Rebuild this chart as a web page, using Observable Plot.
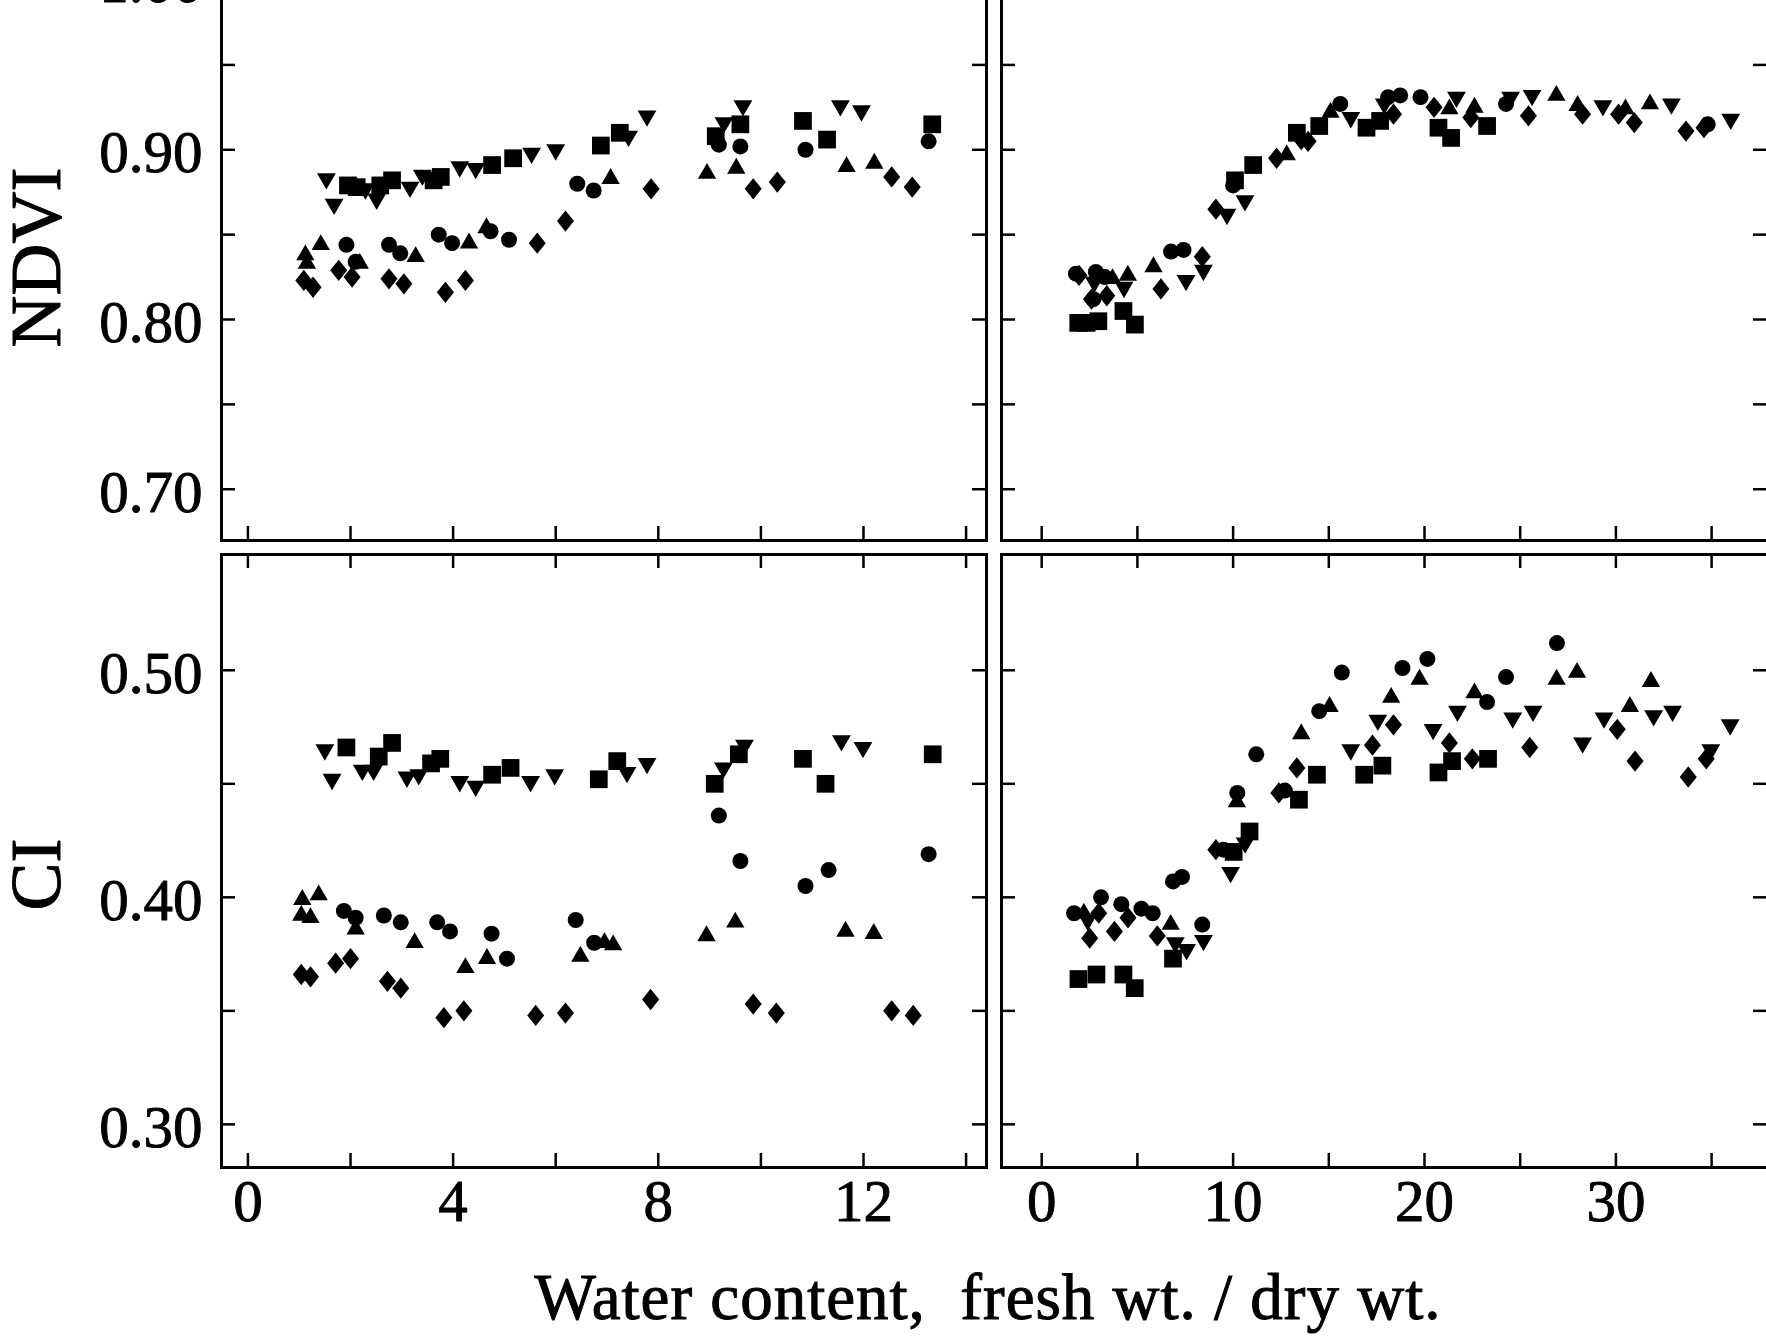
<!DOCTYPE html>
<html><head><meta charset="utf-8">
<script src="https://cdn.jsdelivr.net/npm/d3@7"></script>
<script src="https://cdn.jsdelivr.net/npm/@observablehq/plot@0.6"></script>
<style>
html,body{margin:0;padding:0;background:#fff;}
#chart{position:relative;width:1766px;height:1340px;overflow:hidden;background:#fff;font-family:"Liberation Serif","Times New Roman",serif;}
#chart svg{position:absolute;}
.lab{position:absolute;white-space:pre;line-height:0.9;color:#000;font-family:"Liberation Serif","Times New Roman",serif;-webkit-text-stroke:1px #000;}
</style></head><body><div id="chart"></div><script>
// ---------- data: [water content, index] ----------
// NDVI, left panel
const tlSquare = [[1.95,0.879],[2.12,0.878],[2.58,0.879],[2.81,0.882],[3.62,0.882],[3.76,0.884],[4.76,0.891],[5.17,0.895],[6.88,0.9025],[7.25,0.910],[9.12,0.908],[9.60,0.915],[10.82,0.917],[11.29,0.906],[13.34,0.915]];
const tlCircle = [[1.92,0.844],[2.10,0.834],[2.75,0.844],[2.97,0.839],[3.72,0.850],[3.98,0.845],[4.73,0.852],[5.09,0.847],[6.42,0.880],[6.74,0.876],[9.18,0.903],[9.60,0.902],[10.87,0.900],[13.27,0.905]];
const tlUp = [[1.12,0.838],[1.15,0.833],[1.42,0.844],[2.18,0.833],[3.27,0.837],[4.31,0.845],[4.65,0.854],[7.07,0.883],[8.95,0.886],[9.52,0.889],[11.67,0.890],[12.21,0.892]];
const tlDown = [[1.53,0.883],[1.68,0.868],[2.29,0.877],[2.51,0.871],[3.16,0.878],[3.40,0.885],[4.13,0.890],[4.44,0.889],[5.53,0.898],[6.00,0.900],[7.42,0.908],[7.78,0.920],[9.28,0.916],[9.65,0.926],[11.55,0.926],[11.96,0.923]];
const tlDiamond = [[1.09,0.823],[1.27,0.819],[1.77,0.829],[2.03,0.825],[2.75,0.824],[3.04,0.821],[3.85,0.816],[4.24,0.823],[5.64,0.845],[6.19,0.858],[7.86,0.877],[9.85,0.877],[10.32,0.881],[12.55,0.884],[12.95,0.878]];
// NDVI, right panel
const trSquare = [[1.91,0.798],[2.35,0.798],[2.96,0.799],[4.27,0.805],[4.87,0.797],[10.10,0.882],[11.05,0.891],[13.33,0.910],[14.50,0.914],[16.97,0.913],[17.68,0.917],[20.73,0.913],[21.39,0.907],[23.27,0.914]];
const trCircle = [[1.79,0.827],[2.83,0.828],[2.70,0.812],[3.30,0.825],[6.76,0.840],[7.41,0.841],[10.00,0.879],[15.60,0.927],[18.10,0.931],[18.73,0.932],[19.79,0.931],[24.26,0.927],[34.80,0.915]];
const trUp = [[3.70,0.824],[4.50,0.826],[5.84,0.831],[12.80,0.897],[15.09,0.922],[21.30,0.924],[22.61,0.925],[26.89,0.932],[28.00,0.926],[30.50,0.924],[31.78,0.927]];
const trDown = [[2.75,0.822],[4.30,0.819],[7.54,0.823],[8.45,0.829],[9.68,0.862],[10.62,0.870],[16.15,0.919],[17.90,0.927],[21.67,0.931],[24.50,0.931],[25.62,0.932],[29.32,0.926],[32.90,0.927],[36.00,0.918]];
const trDiamond = [[1.95,0.826],[2.60,0.812],[3.40,0.814],[6.23,0.818],[8.39,0.837],[9.10,0.865],[12.27,0.895],[13.56,0.906],[13.92,0.905],[18.38,0.921],[20.50,0.925],[22.42,0.919],[25.43,0.920],[28.26,0.921],[30.14,0.921],[30.96,0.916],[33.66,0.911],[34.60,0.913]];
// CI, left panel
const blSquare = [[1.92,0.466],[2.55,0.462],[2.81,0.468],[3.57,0.459],[3.75,0.461],[4.76,0.454],[5.12,0.457],[6.84,0.452],[7.20,0.460],[9.10,0.450],[9.57,0.463],[10.82,0.461],[11.26,0.450],[13.35,0.463]];
const blCircle = [[1.87,0.394],[2.10,0.391],[2.65,0.392],[2.98,0.389],[3.69,0.389],[3.94,0.385],[4.75,0.384],[5.05,0.373],[6.39,0.390],[6.75,0.380],[9.18,0.436],[9.60,0.416],[10.87,0.405],[11.32,0.412],[13.27,0.419]];
const blUp = [[1.06,0.399],[1.38,0.401],[1.04,0.392],[1.22,0.391],[2.10,0.386],[3.25,0.380],[4.24,0.369],[4.66,0.373],[6.48,0.374],[6.95,0.380],[7.12,0.379],[8.94,0.383],[9.50,0.389],[11.65,0.385],[12.20,0.384]];
const blDown = [[1.50,0.465],[1.64,0.452],[2.23,0.456],[2.45,0.456],[3.10,0.453],[3.33,0.454],[4.13,0.451],[4.44,0.449],[5.51,0.451],[5.98,0.454],[7.39,0.455],[7.78,0.459],[9.27,0.457],[9.68,0.467],[11.57,0.469],[11.99,0.466]];
const blDiamond = [[1.04,0.366],[1.22,0.365],[1.71,0.371],[2.00,0.373],[2.72,0.363],[2.98,0.360],[3.82,0.347],[4.21,0.350],[5.61,0.348],[6.19,0.349],[7.85,0.355],[9.85,0.353],[10.30,0.349],[12.55,0.350],[12.97,0.348]];
// CI, right panel
const brSquare = [[1.92,0.364],[2.86,0.366],[4.27,0.366],[4.86,0.360],[6.86,0.373],[10.03,0.420],[10.86,0.429],[13.44,0.443],[14.38,0.454],[16.85,0.454],[17.80,0.458],[20.73,0.455],[21.44,0.460],[23.32,0.461]];
const brCircle = [[1.69,0.393],[3.10,0.400],[4.16,0.397],[5.21,0.395],[5.80,0.393],[6.86,0.407],[7.33,0.409],[8.39,0.388],[9.50,0.421],[10.22,0.446],[11.21,0.463],[12.70,0.447],[14.50,0.482],[15.68,0.499],[18.85,0.501],[20.15,0.505],[23.27,0.486],[24.26,0.497],[26.92,0.512]];
const brUp = [[2.20,0.393],[6.74,0.388],[10.20,0.442],[13.56,0.472],[15.04,0.484],[18.26,0.488],[19.74,0.496],[22.61,0.490],[26.90,0.496],[27.97,0.499],[30.73,0.484],[31.83,0.495]];
const brDown = [[2.40,0.390],[6.98,0.380],[7.57,0.377],[8.45,0.381],[9.87,0.411],[10.63,0.424],[16.15,0.465],[17.56,0.478],[20.45,0.474],[21.72,0.482],[24.61,0.479],[25.67,0.482],[28.26,0.468],[29.38,0.479],[31.97,0.480],[32.96,0.482],[34.96,0.465],[35.97,0.476]];
const brDiamond = [[2.51,0.382],[2.98,0.393],[3.80,0.385],[4.51,0.391],[6.04,0.383],[9.10,0.421],[12.39,0.446],[13.33,0.457],[17.28,0.467],[18.38,0.476],[21.30,0.468],[22.50,0.461],[25.50,0.466],[30.07,0.474],[31.00,0.460],[33.78,0.453],[34.72,0.461]];

// ---------- axes ----------
const leftXTicks = [0,2,4,6,8,10,12,14];
const leftXLabels = [0,4,8,12];
const rightXTicks = [0,5,10,15,20,25,30,35];
const rightXLabels = [0,10,20,30];
const ndviTicks = [0.70,0.75,0.80,0.85,0.90,0.95,1.00];
const ndviLabels = [0.70,0.80,0.90,1.00];
const ciTicks = [0.30,0.35,0.40,0.45,0.50];
const ciLabels = [0.30,0.40,0.50];
const leftXDomain = [-0.515, 14.398];
const rightXDomain = [-2.10, 37.92];
const ndviDomain = [0.6698, 1.0233];
const ciDomain = [0.2810, 0.5510];
const xTitle = "Water content,  fresh wt. / dry wt.";
const yTitles = ["NDVI", "CI"];

// downward triangle symbol
const triangleDown = {
  draw(context, size) {
    const s3 = Math.sqrt(3);
    const y = -Math.sqrt(size / (s3 * 3));
    context.moveTo(0, -y * 2);
    context.lineTo(-s3 * y, y);
    context.lineTo(s3 * y, y);
    context.closePath();
  }
};
// slightly tall diamond symbol
const diamondTall = {
  draw(context, size) {
    const a = Math.sqrt(size / 2.5), b = 1.25 * a;
    context.moveTo(0, -b);
    context.lineTo(a, 0);
    context.lineTo(0, b);
    context.lineTo(-a, 0);
    context.closePath();
  }
};

const chart = document.getElementById("chart");
const FONT = "'Liberation Serif', 'Times New Roman', serif";

function panel(o) {
  const W = o.width - o.mL - o.mR, H = o.height - o.mT - o.mB;
  const tk = {stroke: "black", strokeWidth: 2.5};
  const dotOpts = (sym, r) => ({x: d => d[0], y: d => d[1], symbol: sym, r, fill: "black", stroke: "none"});
  const txt = {fontSize: 59, fill: "black", stroke: "black", strokeWidth: 0.9};
  const marks = [
    Plot.tickX(o.xTicks, {x: d => d, insetTop: H - 14, ...tk}),
    Plot.tickX(o.xTicks, {x: d => d, insetBottom: H - 14, ...tk}),
    Plot.tickY(o.yTicks, {y: d => d, insetRight: W - 14, ...tk}),
    Plot.tickY(o.yTicks, {y: d => d, insetLeft: W - 14, ...tk}),
    Plot.frame({stroke: "black", strokeWidth: 3}),
    Plot.dot(o.series[4], dotOpts(diamondTall, 7.6)),
    Plot.dot(o.series[3], dotOpts(triangleDown, 7)),
    Plot.dot(o.series[2], dotOpts("triangle", 6.8)),
    Plot.dot(o.series[1], dotOpts("circle", 8)),
    Plot.dot(o.series[0], dotOpts("square", 10))
  ];
  if (o.xLabels) marks.push(Plot.text(o.xLabels, {x: d => d, frameAnchor: "bottom", dy: 53, text: d => String(d), ...txt}));
  if (o.yLabels) marks.push(Plot.text(o.yLabels, {y: d => d, frameAnchor: "left", textAnchor: "end", dx: -19, dy: 3.4, text: d => d.toFixed(2), ...txt}));
  if (o.yTitle) marks.push(Plot.text([o.yTitle], {frameAnchor: "left", textAnchor: "middle", dx: o.titleDx, dy: o.titleDy, rotate: -90, text: d => d, fontSize: 72, fill: "black", stroke: "black", strokeWidth: 1}));
  const svg = Plot.plot({
    width: o.width, height: o.height,
    marginLeft: o.mL, marginRight: o.mR, marginTop: o.mT, marginBottom: o.mB,
    x: {domain: o.xDomain, axis: null},
    y: {domain: o.yDomain, axis: null},
    style: {background: "transparent", fontFamily: FONT, overflow: "visible"},
    marks
  });
  svg.style.left = o.left + "px";
  svg.style.top = o.top + "px";
  chart.append(svg);
}

// top-left NDVI (frame middle at page y 240; title at 257)
panel({series: [tlSquare, tlCircle, tlUp, tlDown, tlDiamond], xDomain: leftXDomain, yDomain: ndviDomain,
  xTicks: leftXTicks, yTicks: ndviTicks, yLabels: ndviLabels, yTitle: yTitles[0], titleDx: -185, titleDy: 17,
  left: 0, top: -70, width: 994, height: 612, mL: 221, mR: 8, mT: 10, mB: 2});
// top-right NDVI
panel({series: [trSquare, trCircle, trUp, trDown, trDiamond], xDomain: rightXDomain, yDomain: ndviDomain,
  xTicks: rightXTicks, yTicks: ndviTicks,
  left: 994, top: -70, width: 782, height: 612, mL: 7, mR: 9, mT: 10, mB: 2});
// bottom-left CI (frame middle at page y 860.5; title at 874)
panel({series: [blSquare, blCircle, blUp, blDown, blDiamond], xDomain: leftXDomain, yDomain: ciDomain,
  xTicks: leftXTicks, yTicks: ciTicks, yLabels: ciLabels, xLabels: leftXLabels, yTitle: yTitles[1], titleDx: -185, titleDy: 13.5,
  left: 0, top: 548, width: 994, height: 792, mL: 221, mR: 8, mT: 6, mB: 173});
// bottom-right CI
panel({series: [brSquare, brCircle, brUp, brDown, brDiamond], xDomain: rightXDomain, yDomain: ciDomain,
  xTicks: rightXTicks, yTicks: ciTicks, xLabels: rightXLabels,
  left: 994, top: 548, width: 782, height: 792, mL: 7, mR: 9, mT: 6, mB: 173});

const t = document.createElement("div");
t.className = "lab";
t.textContent = xTitle;
Object.assign(t.style, {left: "988px", top: "1268px", fontSize: "65px", letterSpacing: "1px", transform: "translateX(-50%)"});
chart.append(t);
</script></body></html>
